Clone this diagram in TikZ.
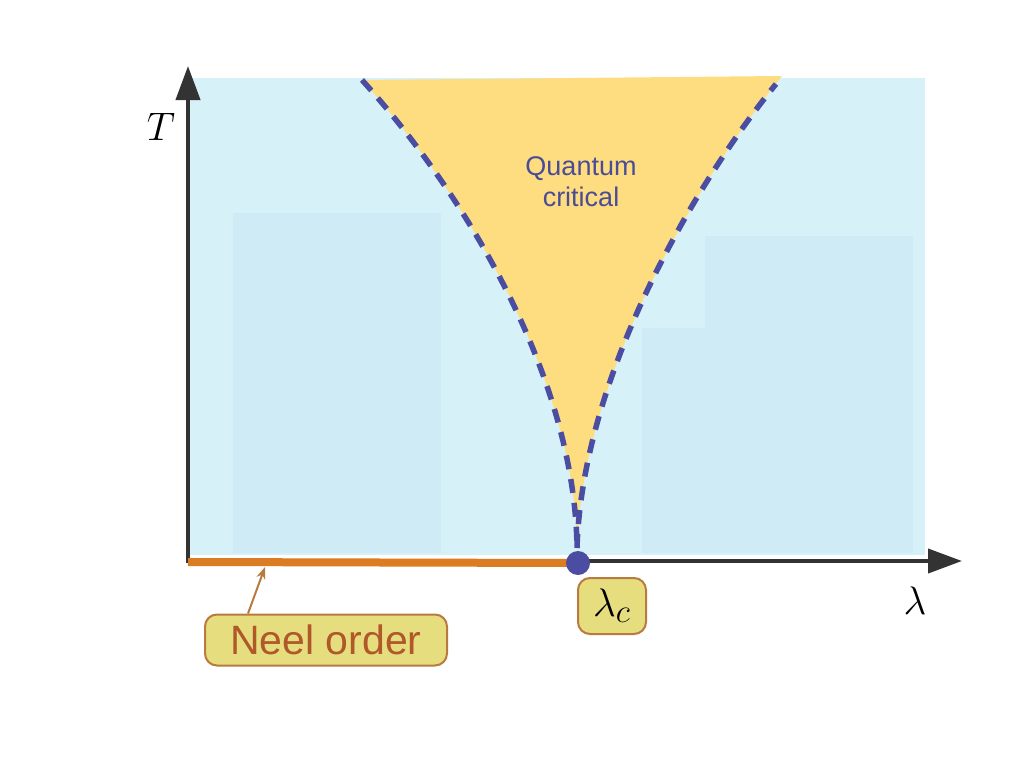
\documentclass[tikz,border=0pt]{standalone}
\usepackage{fontspec}
\setmainfont{Liberation Sans}
\usetikzlibrary{arrows.meta}

\definecolor{bgblue}{HTML}{D7F1F8}
\definecolor{boxblue}{HTML}{CEEBF6}
\definecolor{qcyellow}{HTML}{FDDD80}
\definecolor{critblue}{HTML}{4A4DA2}
\definecolor{axisgray}{HTML}{333333}
\definecolor{neelorange}{HTML}{DB7B22}
\definecolor{tagfill}{HTML}{E6DE7E}
\definecolor{tagedge}{HTML}{B87A3E}
\definecolor{tagtext}{HTML}{B0582A}
\definecolor{qctext}{HTML}{4B4C95}

\tikzset{
  axis/.style={line width=4pt, axisgray, -{Triangle[length=34pt,width=24pt]}},
  critline/.style={line width=5.5pt, critblue, dash pattern=on 14pt off 10pt},
  tagbox/.style={draw=tagedge, line width=2pt, fill=tagfill, rounded corners=12pt, inner sep=0pt},
  pointer/.style={line width=2pt, tagedge, -{Stealth[length=12pt,width=9pt]}},
  mathlabel/.style={scale=1.6, font=\Huge}
}

\begin{document}
\begin{tikzpicture}[x=1pt, y=-1pt]
  \useasboundingbox (0,0) rectangle (1024,768);

  % phase regions
  \fill[bgblue]  (190,78) rectangle (925,555);
  \fill[boxblue] (233,213) rectangle (441,553);
  \fill[boxblue] (705,236) -- (913,236) -- (913,553) -- (642,553) -- (642,328) -- (705,328) -- cycle;
  \fill[qcyellow] (362,80) .. controls (470,200) and (575,380) .. (577,548)
                  .. controls (582,380) and (690,190) .. (782,76) -- cycle;

  % crossover lines
  \draw[critline] (362,80) .. controls (470,200) and (575,380) .. (577,548);
  \draw[critline] (577,548) .. controls (582,380) and (690,190) .. (776,84);

  % axes
  \coordinate (origin) at (188,561);
  \coordinate (tend) at (188,66);
  \coordinate (lend) at (962,561);
  \draw[axis] (origin) -- (tend);
  \draw[axis] ([xshift=-2pt]origin) -- (lend);

  % ordered phase at T=0
  \coordinate (qcp) at (578,563);
  \draw[neelorange, line width=8pt] (188,562) -- (qcp);
  \fill[critblue] (qcp) circle (12);

  % labels
  \node[mathlabel] (tlabel) at (161,127) {$T$};
  \node[mathlabel] (llabel) at (915,601) {$\lambda$};
  \node[text=qctext, align=center, font=\fontsize{27}{31}\selectfont] (qc) at (581,182) {Quantum\\critical};

  \node[tagbox, minimum width=242pt, minimum height=51pt, text=tagtext, font=\fontsize{41}{41}\selectfont] (neel) at (326,640) {Neel order};
  \node[tagbox, minimum width=68pt, minimum height=56pt] (lc) at (612,606) {};
  \node[mathlabel] (lctext) at (lc) {$\lambda_c$};

  \coordinate (neelpt) at (265,567);
  \draw[pointer] ([xshift=-78pt]neel.north) -- (neelpt);
\end{tikzpicture}
\end{document}
